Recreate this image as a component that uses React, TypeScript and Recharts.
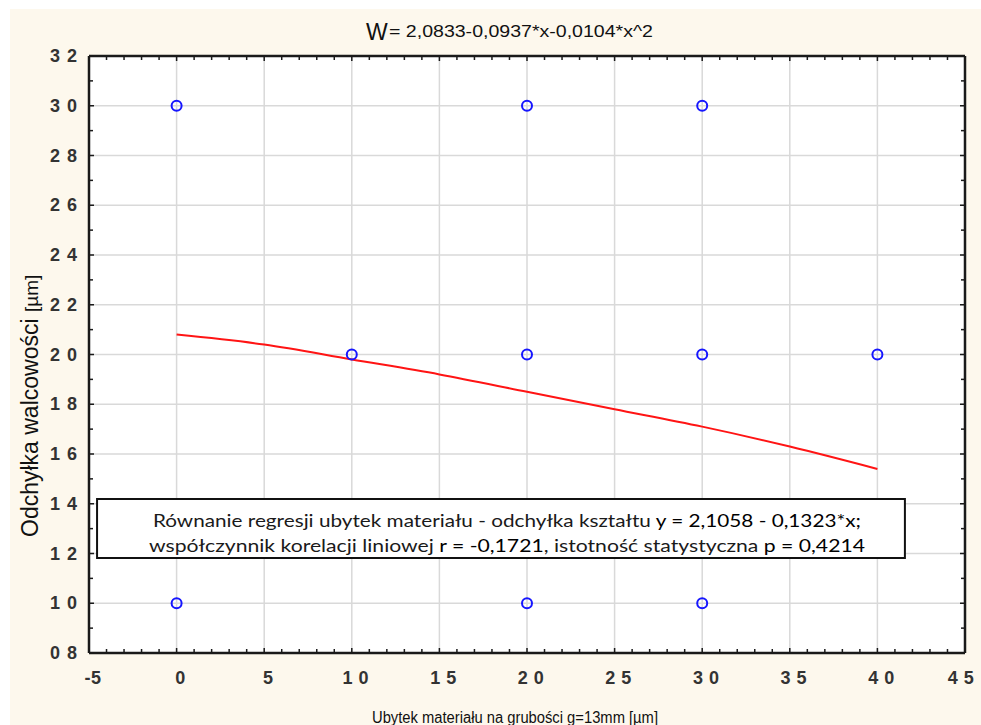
import React from "react";
import { ComposedChart, Scatter, Line, XAxis, YAxis, CartesianGrid, ReferenceArea } from "recharts";

// measured points (x = ubytek, y = odchyłka)
const pointsX = [0, 0, 1, 2, 2, 2, 3, 3, 3, 4];
const pointsY = [3.0, 1.0, 2.0, 3.0, 2.0, 1.0, 3.0, 2.0, 1.0, 2.0];

// fitted curve
const fitX = [0, 0.5, 1, 1.5, 2, 2.5, 3, 3.5, 4];
const fitY = [2.08, 2.04, 1.98, 1.92, 1.85, 1.78, 1.71, 1.63, 1.54];

const xTicks = [-0.5, 0, 0.5, 1, 1.5, 2, 2.5, 3, 3.5, 4, 4.5];
const xTickLabels = ["-5", "0", "5", "1 0", "1 5", "2 0", "2 5", "3 0", "3 5", "4 0", "4 5"];
const yTicks = [0.8, 1.0, 1.2, 1.4, 1.6, 1.8, 2.0, 2.2, 2.4, 2.6, 2.8, 3.0, 3.2];
const yTickLabels = ["0 8", "1 0", "1 2", "1 4", "1 6", "1 8", "2 0", "2 2", "2 4", "2 6", "2 8", "3 0", "3 2"];

const scatterData = pointsX.map((x, i) => ({ x, y: pointsY[i] }));
const fitData = fitX.map((x, i) => ({ x, y: fitY[i] }));

// tick marks between the labelled ones
const withMinor = (majors: number[], parts: number) => {
  const out: number[] = [];
  majors.forEach((m, i) => {
    out.push(m);
    if (i < majors.length - 1) {
      const step = (majors[i + 1] - m) / parts;
      for (let k = 1; k < parts; k++) out.push(m + k * step);
    }
  });
  return out;
};
const xAllTicks = withMinor(xTicks, 5);
const yAllTicks = withMinor(yTicks, 2);

const majorIndex = (majors: number[], v: number) => majors.findIndex((m) => Math.abs(m - v) < 1e-6);

const FRAME = "#1a1a1a";
const TICK_FONT = "'Liberation Sans', Arial, sans-serif";

function BottomTick(props: any) {
  const { x, y, payload } = props;
  const i = majorIndex(xTicks, payload.value);
  const shift = i === xTicks.length - 1 ? -4 : 4;
  return (
    <g>
      <line x1={x} x2={x} y1={y} y2={y - (i >= 0 ? 5 : 4)} stroke={FRAME} strokeWidth={1.5} />
      {i >= 0 && (
        <text x={x + shift} y={y + 31} textAnchor="middle" fontSize={18} fontWeight="bold" letterSpacing={0.5} fontFamily={TICK_FONT} fill="#333">
          {xTickLabels[i]}
        </text>
      )}
    </g>
  );
}

function TopTick(props: any) {
  const { x, y, payload } = props;
  const i = majorIndex(xTicks, payload.value);
  return <line x1={x} x2={x} y1={y} y2={y + (i >= 0 ? 5 : 4)} stroke={FRAME} strokeWidth={1.5} />;
}

function LeftTick(props: any) {
  const { x, y, payload } = props;
  const i = majorIndex(yTicks, payload.value);
  return (
    <g>
      <line x1={x} x2={x + (i >= 0 ? 5 : 4)} y1={y} y2={y} stroke={FRAME} strokeWidth={1.5} />
      {i >= 0 && (
        <text x={x - 11} y={y + 6} textAnchor="end" fontSize={18} fontWeight="bold" letterSpacing={1} fontFamily={TICK_FONT} fill="#333">
          {yTickLabels[i]}
        </text>
      )}
    </g>
  );
}

function RightTick(props: any) {
  const { x, y, payload } = props;
  const i = majorIndex(yTicks, payload.value);
  return <line x1={x} x2={x - (i >= 0 ? 5 : 4)} y1={y} y2={y} stroke={FRAME} strokeWidth={1.5} />;
}

function BoxText(props: any) {
  const vb = props.viewBox || {};
  const cx = vb.x + vb.width / 2 + 6;
  const top = vb.y;
  const font = "Lato, 'Open Sans', sans-serif";
  return (
    <g fontFamily={font} fontSize={18} fill="#1a1a1a">
      <text x={cx} y={top + 28} textAnchor="middle" textLength={708} lengthAdjust="spacingAndGlyphs">
        Równanie regresji ubytek materiału - odchyłka kształtu{"  "}
        <tspan fill="#000">y = 2,1058 - 0,1323*x;</tspan>
      </text>
      <text x={cx} y={top + 53} textAnchor="middle" textLength={716} lengthAdjust="spacingAndGlyphs">
        współczynnik korelacji liniowej <tspan fill="#000">r = -0,1721</tspan>, istotność statystyczna{" "}
        <tspan fill="#000">p = 0,4214</tspan>
      </text>
    </g>
  );
}

const Dot = (p: any) => <circle cx={p.cx} cy={p.cy} r={5} fill="none" stroke="#1616ff" strokeWidth={2} />;

export default function App() {
  return (
    <div style={{ position: "absolute", left: 0, top: 0, width: 981, height: 725, background: "#fff", overflow: "hidden" }}>
      <div style={{ position: "absolute", left: 10, top: 9, right: 0, bottom: 0, background: "#fdf8ed" }} />
      <div style={{ position: "absolute", left: 0, top: 0 }}>
        <ComposedChart width={981} height={725} margin={{ top: 46, right: 6, bottom: 32, left: 29 }}>
          <CartesianGrid
            fill="#fff"
            stroke="#d9d9d9"
            strokeWidth={1.5}
            verticalValues={xTicks}
            horizontalValues={yTicks}
          />
          <XAxis
            dataKey="x"
            type="number"
            domain={[-0.5, 4.5]}
            ticks={xAllTicks}
            interval={0}
            height={40}
            tickSize={0}
            tickMargin={0}
            tickLine={false}
            axisLine={{ stroke: FRAME, strokeWidth: 2.5 }}
            tick={(p: any) => <BottomTick {...p} />}
            allowDataOverflow
          />
          <XAxis
            xAxisId="top"
            orientation="top"
            dataKey="x"
            type="number"
            domain={[-0.5, 4.5]}
            ticks={xAllTicks}
            interval={0}
            height={10}
            tickSize={0}
            tickMargin={0}
            tickLine={false}
            axisLine={{ stroke: FRAME, strokeWidth: 2.5 }}
            tick={(p: any) => <TopTick {...p} />}
            allowDataOverflow
          />
          <YAxis
            dataKey="y"
            type="number"
            domain={[0.8, 3.2]}
            ticks={yAllTicks}
            interval={0}
            width={60}
            tickSize={0}
            tickMargin={0}
            tickLine={false}
            axisLine={{ stroke: FRAME, strokeWidth: 2.5 }}
            tick={(p: any) => <LeftTick {...p} />}
            allowDataOverflow
          />
          <YAxis
            yAxisId="right"
            orientation="right"
            dataKey="y"
            type="number"
            domain={[0.8, 3.2]}
            ticks={yAllTicks}
            interval={0}
            width={10}
            tickSize={0}
            tickMargin={0}
            tickLine={false}
            axisLine={{ stroke: FRAME, strokeWidth: 2.5 }}
            tick={(p: any) => <RightTick {...p} />}
            allowDataOverflow
          />
          <Line
            data={fitData}
            dataKey="y"
            type="monotone"
            stroke="#ff1414"
            strokeWidth={2}
            dot={false}
            activeDot={false}
            isAnimationActive={false}
          />
          <Scatter data={scatterData} dataKey="y" shape={Dot} isAnimationActive={false} />
          <ReferenceArea
            x1={-0.454}
            x2={4.157}
            y1={1.182}
            y2={1.419}
            fill="#fff"
            fillOpacity={1}
            stroke="#111"
            strokeWidth={2}
            label={(p: any) => <BoxText {...p} />}
          />
        </ComposedChart>
      </div>
      <svg width={981} height={725} style={{ position: "absolute", left: 0, top: 0, pointerEvents: "none" }}>
        <g fontFamily="'Liberation Sans', Arial, sans-serif" fill="#111">
          <text x={366} y={40} fontSize={23}>W</text>
          <text x={389} y={37} fontSize={16} textLength={264} lengthAdjust="spacingAndGlyphs">
            = 2,0833-0,0937*x-0,0104*x^2
          </text>
          <text x={515} y={723} fontSize={16} textAnchor="middle" textLength={286} lengthAdjust="spacingAndGlyphs">
            Ubytek materiału na grubości g=13mm [µm]
          </text>
          <text transform="translate(38, 537) rotate(-90)" fontSize={23}>
            Odchyłka walcowości <tspan fontSize={19}>[µm]</tspan>
          </text>
        </g>
      </svg>
    </div>
  );
}
